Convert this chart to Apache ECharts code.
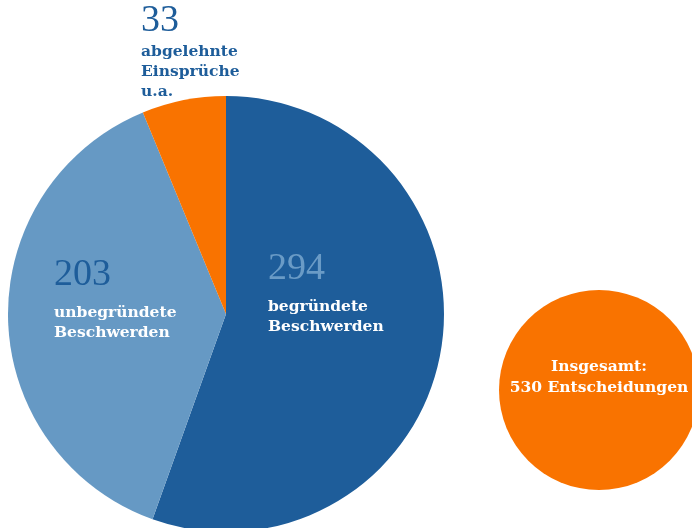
<!DOCTYPE html>
<html>
<head>
<meta charset="utf-8">
<style>
html,body{margin:0;padding:0;background:#fff;}
#c{width:692px;height:528px;}
</style>
<script src="https://cdn.jsdelivr.net/npm/echarts@6/dist/echarts.min.js"></script>
</head>
<body>
<div id="c"></div>
<script>
// Data
var categories = ['begründete Beschwerden', 'unbegründete Beschwerden', 'abgelehnte Einsprüche u.a.'];
var labelLines = [['begründete', 'Beschwerden'], ['unbegründete', 'Beschwerden'], ['abgelehnte', 'Einsprüche', 'u.a.']];
var values = [294, 203, 33];
var totalLabel = ['Insgesamt:', 'Entscheidungen'];

var colors = ['#1e5d9a', '#6699c4', '#f97300'];
var numColors = ['#6a9bc6', '#1e5d9a', '#1e5d9a'];
var txtColors = ['#ffffff', '#ffffff', '#1e5d9a'];
var numLH = [56, 56, 42];
var labelPos = [[268, 241], [54, 247], [141, 0]];

var total = values.reduce(function (a, b) { return a + b; }, 0);

var NUMFONT = '"Liberation Serif", serif';
var TXTFONT = '"DejaVu Serif", serif';

var pieData = values.map(function (v, i) {
  var rich = {};
  rich['n'] = { fontFamily: NUMFONT, fontSize: 38, color: numColors[i], lineHeight: numLH[i] };
  rich['t'] = { fontFamily: TXTFONT, fontSize: 15.5, fontWeight: 'bold', color: txtColors[i], lineHeight: 20 };
  return {
    name: categories[i],
    value: v,
    itemStyle: { color: colors[i] },
    label: {
      show: true,
      formatter: '{n|' + v + '}\n{t|' + labelLines[i].join('}\n{t|') + '}',
      rich: rich
    }
  };
});

var chart = echarts.init(document.getElementById('c'));
chart.setOption({
  animation: false,
  series: [
    {
      type: 'pie',
      center: [226, 314],
      radius: [0, 218],
      startAngle: 90,
      clockwise: true,
      silent: true,
      label: { position: 'inside', align: 'left' },
      labelLine: { show: false },
      labelLayout: function (p) {
        var pos = labelPos[p.dataIndex];
        return { x: pos[0], y: pos[1], align: 'left', verticalAlign: 'top' };
      },
      itemStyle: { borderWidth: 0 },
      data: pieData
    },
    {
      type: 'pie',
      center: [599, 390],
      radius: [0, 100],
      silent: true,
      labelLine: { show: false },
      label: {
        show: true,
        position: 'center',
        formatter: function () { return totalLabel[0] + '\n' + total + ' ' + totalLabel[1]; },
        fontFamily: TXTFONT,
        fontSize: 15.5,
        fontWeight: 'bold',
        color: '#ffffff',
        lineHeight: 21,
        align: 'center'
      },
      labelLayout: function () {
        return { x: 599, y: 377, align: 'center', verticalAlign: 'middle' };
      },
      itemStyle: { color: '#f97300', borderWidth: 0 },
      data: [{ name: 'Insgesamt', value: total }]
    }
  ]
});
</script>
</body>
</html>
